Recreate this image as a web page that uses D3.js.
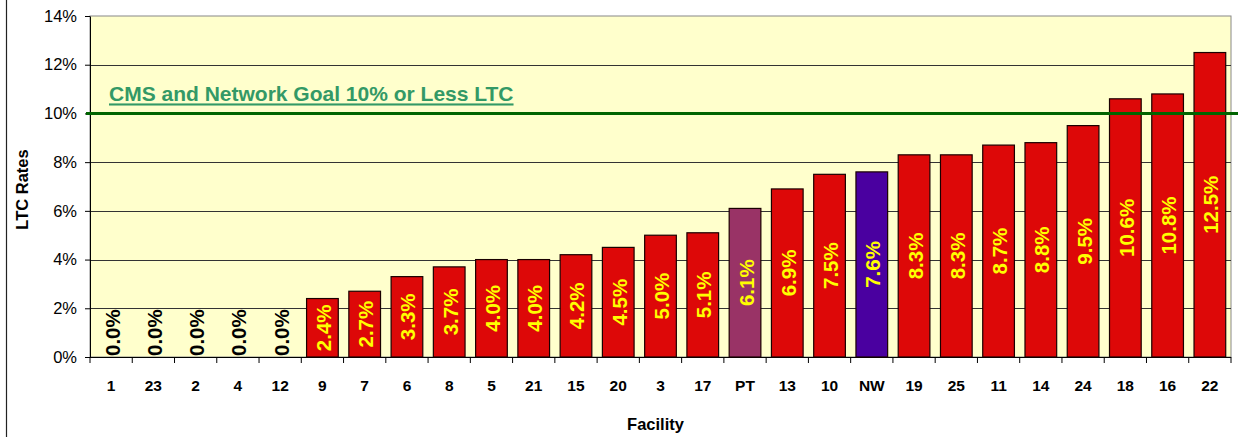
<!DOCTYPE html>
<html>
<head>
<meta charset="utf-8">
<script src="https://cdn.jsdelivr.net/npm/d3@7"></script>
<style>
  body { margin: 0; background: #fff; }
  svg { display: block; font-family: "Liberation Sans", Arial, sans-serif; }
</style>
</head>
<body>
<div id="chart"></div>
<script>
// Facilities in display order and their LTC rates (%)
const facilities = ["1", "23", "2", "4", "12", "9", "7", "6", "8", "5", "21", "15", "20", "3", "17",
    "PT", "13", "10", "NW", "19", "25", "11", "14", "24", "18", "16", "22"];
const rates = [0.0, 0.0, 0.0, 0.0, 0.0, 2.4, 2.7, 3.3, 3.7, 4.0, 4.0, 4.2, 4.5, 5.0, 5.1,
    6.1, 6.9, 7.5, 7.6, 8.3, 8.3, 8.7, 8.8, 9.5, 10.6, 10.8, 12.5];
const yTicks = [0, 2, 4, 6, 8, 10, 12, 14];
const goal = 10;
const goalLabel = "CMS and Network Goal 10% or Less LTC";

const W = 1238, H = 437;
const margin = { left: 90, right: 7, top: 16, bottom: 80 };

// special bars get their own colour
const barColor = (name) => name === "PT" ? "#993366" : name === "NW" ? "#4a00a0" : "#dd0808";

const svg = d3.select("#chart").append("svg")
    .attr("width", W)
    .attr("height", H);

// frame line on the left
svg.append("line")
    .attr("x1", 6.5).attr("x2", 6.5)
    .attr("y1", 0).attr("y2", H)
    .attr("stroke", "#222").attr("stroke-width", 1.2);

const x = d3.scaleBand()
    .domain(facilities)
    .range([margin.left, W - margin.right])
    .paddingInner(0.25)
    .paddingOuter(0.125);

const y = d3.scaleLinear()
    .domain([0, 14])
    .range([H - margin.bottom, margin.top]);

// plot background
svg.append("rect")
    .attr("x", margin.left).attr("y", margin.top)
    .attr("width", W - margin.right - margin.left)
    .attr("height", y(0) - margin.top)
    .attr("fill", "#ffffcc")
    .attr("stroke", "#888")
    .attr("stroke-width", 1);

// gridlines
svg.append("g")
    .selectAll("line")
    .data(yTicks.filter(t => t > 0 && t < 14))
    .join("line")
    .attr("x1", margin.left).attr("x2", W - margin.right)
    .attr("y1", d => Math.round(y(d)) + 0.5).attr("y2", d => Math.round(y(d)) + 0.5)
    .attr("stroke", "#333").attr("stroke-width", 1);

// y axis
const yAxis = svg.append("g")
    .attr("transform", `translate(${margin.left},0)`)
    .call(d3.axisLeft(y).tickValues(yTicks).tickFormat(d => d + "%").tickSize(5).tickSizeOuter(0));
yAxis.select(".domain").attr("stroke", "#000");
yAxis.selectAll(".tick line").attr("stroke", "#000");
yAxis.selectAll(".tick text")
    .attr("x", -13)
    .attr("fill", "#000")
    .style("font-size", "16.5px")
    .style("font-family", "'Liberation Sans', Arial, sans-serif");

// x axis: ticks sit between categories
const xAxisG = svg.append("g").attr("transform", `translate(0,${y(0)})`);
xAxisG.append("line")
    .attr("x1", margin.left).attr("x2", W - margin.right)
    .attr("y1", 0.5).attr("y2", 0.5)
    .attr("stroke", "#000");
xAxisG.selectAll(".sep")
    .data(d3.range(facilities.length + 1))
    .join("line")
    .attr("class", "sep")
    .attr("x1", i => margin.left + i * (W - margin.right - margin.left) / facilities.length)
    .attr("x2", i => margin.left + i * (W - margin.right - margin.left) / facilities.length)
    .attr("y1", 0).attr("y2", 6)
    .attr("stroke", "#000");
xAxisG.selectAll(".lbl")
    .data(facilities)
    .join("text")
    .attr("class", "lbl")
    .attr("x", d => x(d) + x.bandwidth() / 2)
    .attr("y", 34)
    .attr("text-anchor", "middle")
    .attr("font-weight", "bold")
    .attr("font-size", "15.5px")
    .text(d => d);

// bars
const data = facilities.map((f, i) => ({ name: f, value: rates[i] }));
svg.append("g")
    .selectAll("rect")
    .data(data)
    .join("rect")
    .attr("x", d => x(d.name))
    .attr("y", d => y(d.value))
    .attr("width", x.bandwidth())
    .attr("height", d => y(0) - y(d.value))
    .attr("fill", d => barColor(d.name))
    .attr("stroke", d => d.value > 0 ? "#1a0000" : "none")
    .attr("stroke-width", 1.2);

// value labels, rotated inside the bars
const labelSize = 20.5;
const labels = svg.append("g")
    .selectAll("text")
    .data(data)
    .join("text")
    .attr("text-anchor", "middle")
    .attr("dominant-baseline", "central")
    .attr("font-weight", "bold")
    .attr("font-size", labelSize + "px")
    .attr("fill", d => d.value > 0 ? "#ffff00" : "#000")
    .text(d => d.value.toFixed(1) + "%");
labels.each(function (d) {
    const len = this.getComputedTextLength();
    const mid = (y(d.value) + y(0)) / 2;
    const cy = Math.min(mid, y(0) - len / 2 - 1);
    const cx = x(d.name) + x.bandwidth() / 2 + 1;
    d3.select(this).attr("transform", `translate(${cx},${cy}) rotate(-90)`);
});

// goal line and its label
svg.append("line")
    .attr("x1", margin.left - 4).attr("x2", W)
    .attr("y1", y(goal)).attr("y2", y(goal))
    .attr("stroke", "#006400").attr("stroke-width", 3);
svg.append("text")
    .attr("x", 109)
    .attr("y", y(goal) - 12)
    .attr("fill", "#339966")
    .attr("font-weight", "bold")
    .attr("font-size", "21px")
    .attr("text-decoration", "underline")
    .text(goalLabel);

// axis titles
svg.append("text")
    .attr("transform", `translate(28,${(margin.top + y(0)) / 2 + 3}) rotate(-90)`)
    .attr("text-anchor", "middle")
    .attr("font-weight", "bold")
    .attr("font-size", "16.5px")
    .text("LTC Rates");
svg.append("text")
    .attr("x", (margin.left + W - margin.right) / 2 - 5)
    .attr("y", 430)
    .attr("text-anchor", "middle")
    .attr("font-weight", "bold")
    .attr("font-size", "16.5px")
    .text("Facility");
</script>
</body>
</html>
